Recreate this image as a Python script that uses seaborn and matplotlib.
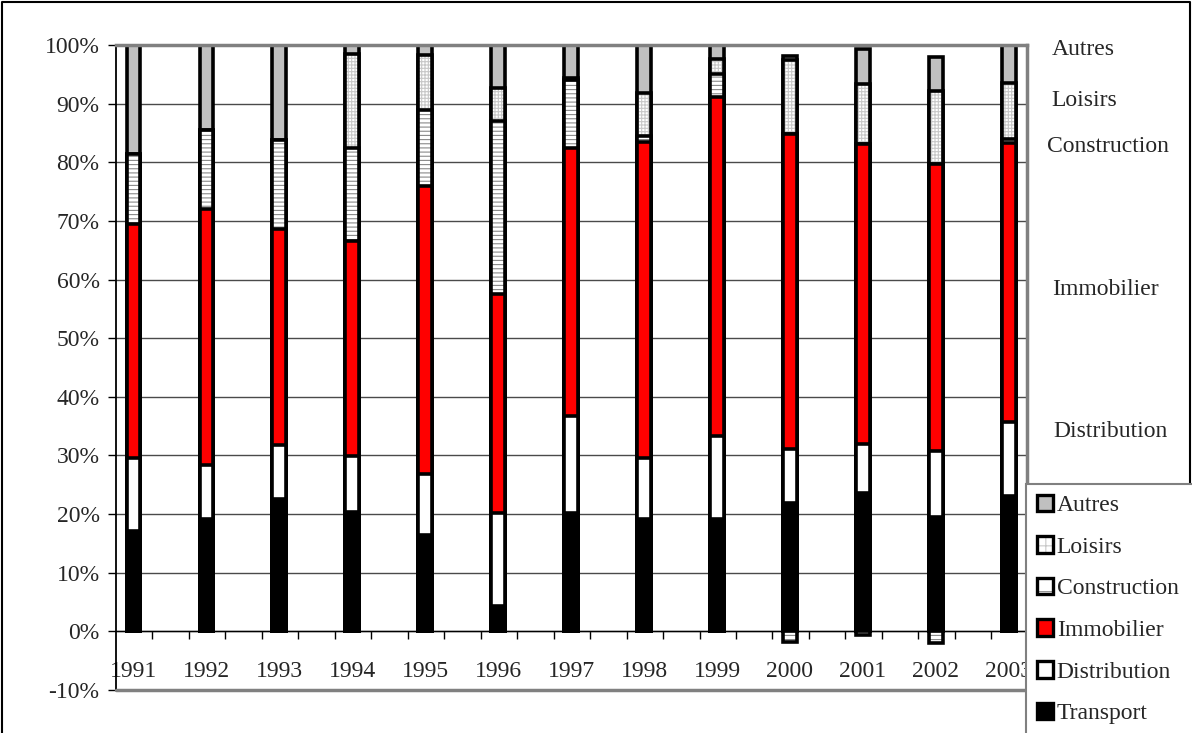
import numpy as np
import pandas as pd
import matplotlib
matplotlib.use("Agg")
import matplotlib.pyplot as plt
import matplotlib.patches as mpatches
import matplotlib.lines as mlines
from matplotlib.ticker import FixedLocator, FuncFormatter
import seaborn as sns

# ---------------- data (percent shares) ----------------
years = ["1991", "1992", "1993", "1994", "1995", "1996", "1997",
         "1998", "1999", "2000", "2001", "2002", "2003"]
transport    = [17.1, 19.1, 22.6, 20.4, 16.5, 4.3, 20.2, 19.1, 19.2, 21.9, 23.6, 19.5, 23.1]
distribution = [12.4, 9.2, 9.2, 9.5, 10.4, 15.9, 16.6, 10.5, 14.2, 9.2, 8.4, 11.3, 12.6]
immobilier   = [40.0, 43.8, 36.8, 36.6, 49.0, 37.3, 45.6, 53.9, 57.8, 53.7, 51.2, 48.9, 47.6]
construction = [11.9, 13.4, 15.2, 15.9, 13.0, 29.6, 11.6, 0.9, 3.9, -1.8, -0.6, -1.9, 0.7]
loisirs      = [0.0, 0.0, 0.0, 16.0, 9.4, 5.5, 0.4, 7.4, 2.5, 12.7, 10.1, 12.5, 9.5]
autres       = [18.6, 14.5, 16.2, 1.6, 1.7, 7.4, 5.6, 8.2, 2.4, 0.7, 6.0, 5.7, 6.5]

series_names = ["Transport", "Distribution", "Immobilier", "Construction", "Loisirs", "Autres"]
series_vals = [transport, distribution, immobilier, construction, loisirs, autres]
y_ticks = [-10, 0, 10, 20, 30, 40, 50, 60, 70, 80, 90, 100]

# ---------------- styles ----------------
styles = {
    "Transport":    dict(face="#000000", hatch=None, hcolor=None),
    "Distribution": dict(face="#FFFFFF", hatch=None, hcolor=None),
    "Immobilier":   dict(face="#FF0000", hatch=None, hcolor=None),
    "Construction": dict(face="#FFFFFF", hatch="----", hcolor="#8a8a8a"),
    "Loisirs":      dict(face="#FFFFFF", hatch="+++++", hcolor="#c8c8c8"),
    "Autres":       dict(face="#C0C0C0", hatch=None, hcolor=None),
}
legend_hatch = {"Construction": "-", "Loisirs": "++"}

sns.set_style("white")
plt.rcParams["font.family"] = ["Liberation Serif", "DejaVu Serif"]
plt.rcParams["hatch.linewidth"] = 0.8
FS = 17

W, H = 1192, 733
fig = plt.figure(figsize=(W / 100, H / 100), dpi=100)
ax_l, ax_r, ax_t, ax_b = 116, 1027, 45, 690
ax = fig.add_axes([ax_l / W, 1 - ax_b / H, (ax_r - ax_l) / W, (ax_b - ax_t) / H])

BAR_W = 0.19
EDGE_LW = 2.6


def draw_layer(heights, name):
    st = styles[name]
    df = pd.DataFrame({"year": years, "value": heights})
    # fill
    sns.barplot(data=df, x="year", y="value", order=years, width=BAR_W,
                color=st["face"], saturation=1, errorbar=None, ax=ax)
    for r in ax.containers[-1]:
        r.set_facecolor(st["face"])
        if st["hatch"]:
            r.set_hatch(st["hatch"])
            r.set_edgecolor(st["hcolor"])
        else:
            r.set_edgecolor("none")
        r.set_linewidth(0)
        r.set_zorder(2)
    # outline
    sns.barplot(data=df, x="year", y="value", order=years, width=BAR_W,
                color="black", saturation=1, errorbar=None, ax=ax)
    for r in ax.containers[-1]:
        r.set_facecolor("none")
        r.set_edgecolor("black")
        r.set_linewidth(EDGE_LW)
        r.set_zorder(2)


pos = np.array([np.clip(np.asarray(v, float), 0, None) for v in series_vals])
cum = np.cumsum(pos, axis=0)
for k in range(len(series_names) - 1, -1, -1):
    draw_layer(cum[k], series_names[k])
neg_construction = np.clip(np.asarray(construction, float), None, 0)
draw_layer(neg_construction, "Construction")

# ---------------- axes ----------------
XL, XR = -0.24, 12.25
ax.set_xlim(XL, XR)
ax.set_ylim(-10, 100)
ax.set_xlabel("")
ax.set_ylabel("")

ax.yaxis.set_major_locator(FixedLocator(y_ticks))
ax.yaxis.set_major_formatter(FuncFormatter(lambda v, p: f"{int(round(v))}%"))
ax.tick_params(axis="y", which="major", direction="out", length=5.8, width=1,
               color="black", pad=6, labelsize=FS, left=True)

ax.set_xticks(range(len(years)))
ax.set_xticklabels(years)
ax.xaxis.set_minor_locator(FixedLocator(np.arange(XL + 0.5, XR, 0.5)))
ax.tick_params(axis="x", which="major", length=0, pad=21, labelsize=FS, bottom=True)
ax.tick_params(axis="x", which="minor", direction="out", length=5.8, width=1,
               color="black", bottom=True)

ax.set_axisbelow(True)
ax.yaxis.grid(True, color="#4a4a4a", linewidth=1.0)
ax.xaxis.grid(False)

ax.spines["bottom"].set_position(("data", 0))
ax.spines["bottom"].set_color("black")
ax.spines["bottom"].set_linewidth(1.0)
ax.spines["left"].set_color("black")
ax.spines["left"].set_linewidth(1.3)
for s in ("top", "right"):
    ax.spines[s].set_visible(True)
    ax.spines[s].set_color("#808080")
    ax.spines[s].set_linewidth(2.5)
ax.axhline(-10, color="#808080", linewidth=2.5, zorder=3, clip_on=False)

# ---------------- side labels ----------------
side_labels = [("Autres", 1052, 55), ("Loisirs", 1051, 106), ("Construction", 1047, 152),
               ("Immobilier", 1052, 295), ("Distribution", 1053, 437)]
for txt, px, py in side_labels:
    fig.text(px / W, 1 - py / H, txt, ha="left", va="baseline", fontsize=FS)

# ---------------- outer frame (left, top, right) ----------------
fx0, fx1, fy1 = 1.5 / W, 1189.5 / W, 1 - 1.5 / H
fig.lines.append(mlines.Line2D([fx0, fx0, fx1, fx1], [0, fy1, fy1, 0],
                               transform=fig.transFigure, color="black",
                               linewidth=1.5, zorder=1))

# ---------------- legend ----------------
handles, labels = [], []
for name in reversed(series_names):
    st = styles[name]
    h = legend_hatch.get(name)
    fillp = mpatches.Patch(facecolor=st["face"],
                           edgecolor=st["hcolor"] if h else "none",
                           hatch=h, linewidth=0)
    outl = mpatches.Patch(facecolor="none", edgecolor="black", linewidth=2.4)
    handles.append((fillp, outl))
    labels.append(name)

leg_x0 = 1026 / W
leg_top = 1 - 484 / H
leg = fig.legend(handles, labels, loc="upper left",
                 bbox_to_anchor=(leg_x0, leg_top - 0.5, 1.02 - leg_x0, 0.5),
                 bbox_transform=fig.transFigure, mode="expand",
                 frameon=True, fancybox=False, framealpha=1, edgecolor="#808080",
                 fontsize=FS, borderpad=0.45, labelspacing=0.85, handlelength=0.7,
                 handleheight=0.7, handletextpad=0.15, borderaxespad=0)
leg.get_frame().set_linewidth(1.5)
leg.set_zorder(10)

fig.savefig("out.png", dpi=100)
